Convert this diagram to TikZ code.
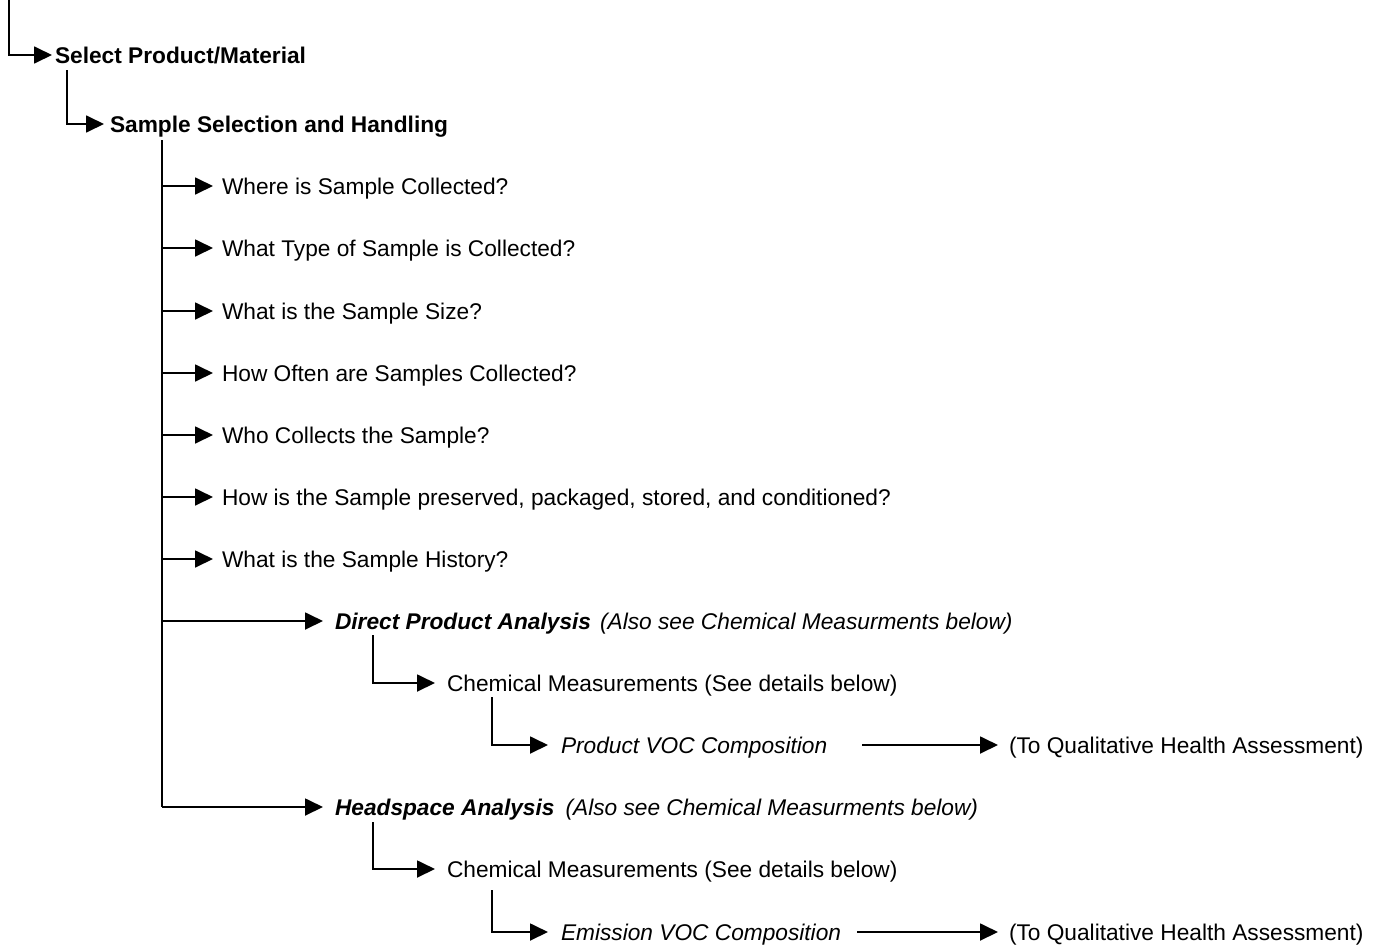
\documentclass[tikz,border=0pt]{standalone}
\usepackage{fontspec}
\setmainfont{Liberation Sans}
\usetikzlibrary{arrows.meta}
\begin{document}
\begin{tikzpicture}[x=1pt,y=-1pt,
  lbl/.style={anchor=west,inner sep=0pt,outer sep=0pt,text height=20pt,text depth=3.6pt,
    font=\fontsize{22.7}{27}\selectfont},
  conn/.style={line width=1.8pt},
  arr/.style={conn,-{Triangle[length=18pt,width=17pt]}}]
\useasboundingbox (0,0) rectangle (1380,945);
% nodes
\node[lbl] (sel) at (55,55) {\textbf{Select Product/Material}};
\node[lbl] (ssh) at (110,124) {\textbf{Sample Selection and Handling}};
\node[lbl] (q1) at (222,186) {Where is Sample Collected?};
\node[lbl] (q2) at (222,248) {What Type of Sample is Collected?};
\node[lbl] (q3) at (222,311) {What is the Sample Size?};
\node[lbl] (q4) at (222,373) {How Often are Samples Collected?};
\node[lbl] (q5) at (222,435) {Who Collects the Sample?};
\node[lbl] (q6) at (222,497) {How is the Sample preserved, packaged, stored, and conditioned?};
\node[lbl] (q7) at (222,559) {What is the Sample History?};
\node[lbl] (dpa) at (335,621) {\textbf{\textit{Direct Product Analysis}}\hspace{9pt}\textit{(Also see Chemical Measurments below)}};
\node[lbl] (cm1) at (447,683) {Chemical Measurements (See details below)};
\node[lbl] (pvoc) at (561,745) {\textit{Product VOC Composition}};
\node[lbl] (qa1) at (1009,745) {(To Qualitative Health Assessment)};
\node[lbl] (hsa) at (335,807) {\textbf{\textit{Headspace Analysis}}\hspace{11pt}\textit{(Also see Chemical Measurments below)}};
\node[lbl] (cm2) at (447,869) {Chemical Measurements (See details below)};
\node[lbl] (evoc) at (561,932) {\textit{Emission VOC Composition}};
\node[lbl] (qa2) at (1009,932) {(To Qualitative Health Assessment)};
% coordinates
\coordinate (c0) at (9,0);
\coordinate (c1) at (67,70);
\coordinate (ttop) at (162,140);
\coordinate (tbot) at (162,807);
\coordinate (cd) at (373,635);
\coordinate (cp) at (492,697);
\coordinate (ch) at (373,822);
\coordinate (ce) at (492,890);
% connectors
\draw[arr,shorten >=3pt] (c0) |- (sel.west);
\draw[arr,shorten >=6pt] (c1) |- (ssh.west);
\draw[conn] (ttop) -- (tbot);
\foreach \n in {q1,q2,q3,q4,q5,q6,q7}
  \draw[arr,shorten >=9pt] (ttop |- \n.west) -- (\n.west);
\draw[arr,shorten >=12pt] (ttop |- dpa.west) -- (dpa.west);
\draw[arr,shorten >=12pt] (tbot) -- (hsa.west);
\draw[arr,shorten >=12pt] (cd) |- (cm1.west);
\draw[arr,shorten >=13pt] (cp) |- (pvoc.west);
\draw[arr,shorten >=12pt] (ch) |- (cm2.west);
\draw[arr,shorten >=13pt] (ce) |- (evoc.west);
\draw[arr,shorten >=11pt] ([xshift=35pt]pvoc.east) -- (qa1.west);
\draw[arr,shorten >=11pt] ([xshift=16pt]evoc.east) -- (qa2.west);
\end{tikzpicture}
\end{document}
